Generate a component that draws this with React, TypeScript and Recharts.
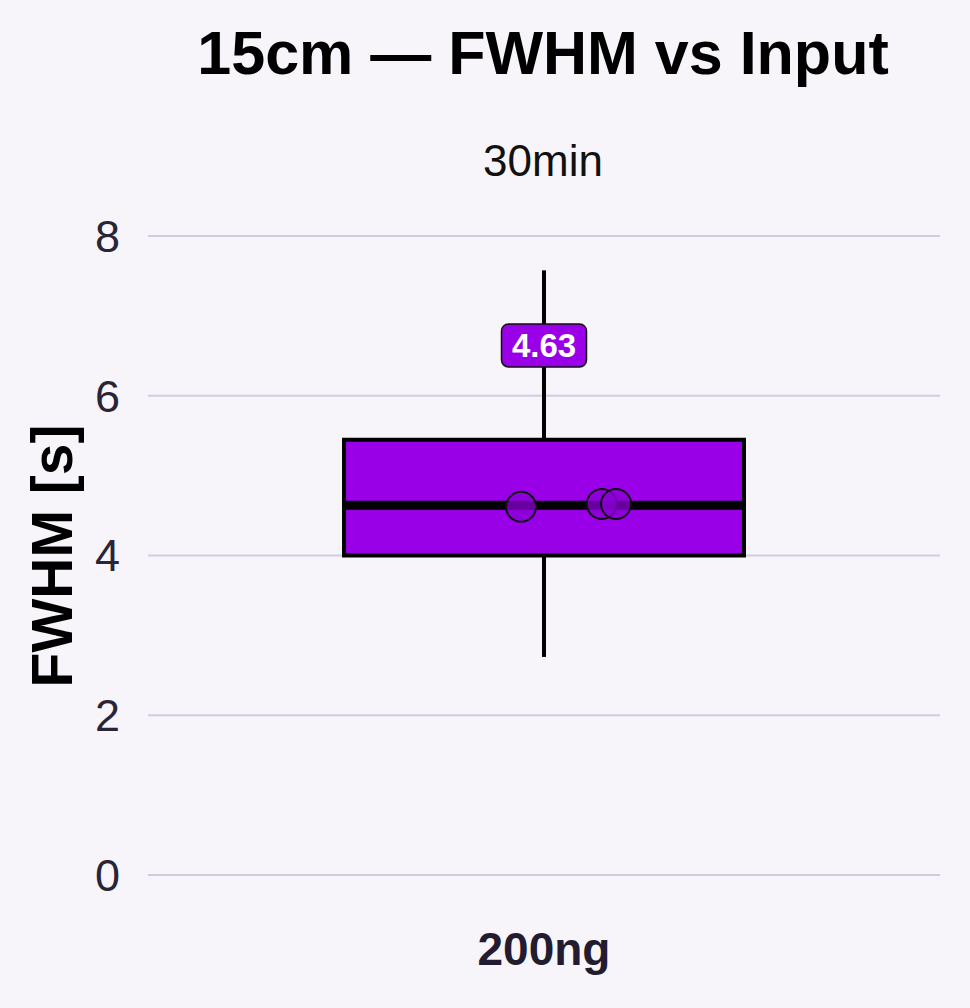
import React from 'react';
import { ComposedChart, XAxis, YAxis, CartesianGrid, Scatter, ReferenceArea, ReferenceLine } from 'recharts';

const categories = ['200ng'];
const yTicks = [0, 2, 4, 6, 8];
// box stats
const q1 = [4.0];
const q3 = [5.45];
const medians = [4.63];
const whiskerLow = [2.73];
const whiskerHigh = [7.57];
const medianLabels = ['4.63'];
const labelY = [6.63];
// jittered replicate points (x offset from category center, value)
const pointX = [-0.029, 0.073, 0.091];
const pointY = [4.61, 4.645, 4.645];

const BOX_HALF = 0.2525;
const PURPLE = '#9a00e8';
const FONT = '"Liberation Sans", Arial, Helvetica, sans-serif';

const points = pointX.map((x, i) => ({ x, y: pointY[i] }));
const labelData = medianLabels.map((t, i) => ({ x: 0, y: labelY[i], t }));

const PointShape = (props: any) => {
  const { cx, cy } = props;
  return <circle cx={cx} cy={cy} r={15} fill="#8a00d4" fillOpacity={0.75} stroke="#111" strokeWidth={2} />;
};

const LabelShape = (props: any) => {
  const { cx, cy, payload } = props;
  const w = 85, h = 43;
  return (
    <g>
      <rect x={cx - w / 2} y={cy - h / 2} width={w} height={h} rx={7} ry={7} fill={PURPLE} stroke="#111" strokeWidth={1.5} />
      <text x={cx} y={cy} textAnchor="middle" dominantBaseline="central" fill="#fff" fontSize={33} fontWeight="bold" fontFamily={FONT}>{payload.t}</text>
    </g>
  );
};

const YLabel = () => (
  <text x={52} y={556} transform="rotate(-90, 52, 556)" textAnchor="middle" dominantBaseline="central" fontSize={57} fontWeight="bold" fill="#000" fontFamily={FONT}>FWHM [s]</text>
);

export default function App() {
  return (
    <div style={{ position: 'relative', width: 970, height: 1008, background: '#f7f5fa', fontFamily: FONT }}>
      <style>{`body{margin:0;background:#f7f5fa}`}</style>
      <div style={{ position: 'absolute', left: 88, width: 910, top: 18, textAlign: 'center', fontSize: 61, fontWeight: 'bold', color: '#000', whiteSpace: 'nowrap' }}>15cm — FWHM vs Input</div>
      <div style={{ position: 'absolute', left: 88, width: 910, top: 136, textAlign: 'center', fontSize: 44, color: '#111' }}>30min</div>
      <div style={{ position: 'absolute', left: 0, top: 0 }}>
        <ComposedChart width={970} height={1008} margin={{ top: 236, right: 30, bottom: 0, left: 0 }}>
          <CartesianGrid vertical={false} stroke="#d3cce0" strokeWidth={2} />
          <XAxis type="number" dataKey="x" domain={[-0.5, 0.5]} ticks={[0]} tickFormatter={() => categories[0]} axisLine={false} tickLine={false} height={133} tickSize={0} tickMargin={57}
            tick={{ fontSize: 46, fontWeight: 'bold', fill: '#231c30', fontFamily: FONT }} />
          <YAxis type="number" domain={[0, 8]} ticks={yTicks} width={148} axisLine={false} tickLine={false} tickSize={0} tickMargin={28}
            tick={{ fontSize: 45, fill: '#2a2438', fontFamily: FONT }} label={<YLabel />} />
          <ReferenceLine segment={[{ x: 0, y: q3[0] }, { x: 0, y: whiskerHigh[0] }]} stroke="#000" strokeWidth={4} />
          <ReferenceLine segment={[{ x: 0, y: whiskerLow[0] }, { x: 0, y: q1[0] }]} stroke="#000" strokeWidth={4} />
          <ReferenceArea x1={-BOX_HALF} x2={BOX_HALF} y1={q1[0]} y2={q3[0]} fill={PURPLE} fillOpacity={1} stroke="#000" strokeWidth={4} />
          <ReferenceLine segment={[{ x: -BOX_HALF, y: medians[0] }, { x: BOX_HALF, y: medians[0] }]} stroke="#000" strokeWidth={9} />
          <Scatter data={points} dataKey="y" shape={<PointShape />} isAnimationActive={false} />
          <Scatter data={labelData} dataKey="y" shape={<LabelShape />} isAnimationActive={false} />
        </ComposedChart>
      </div>
    </div>
  );
}
